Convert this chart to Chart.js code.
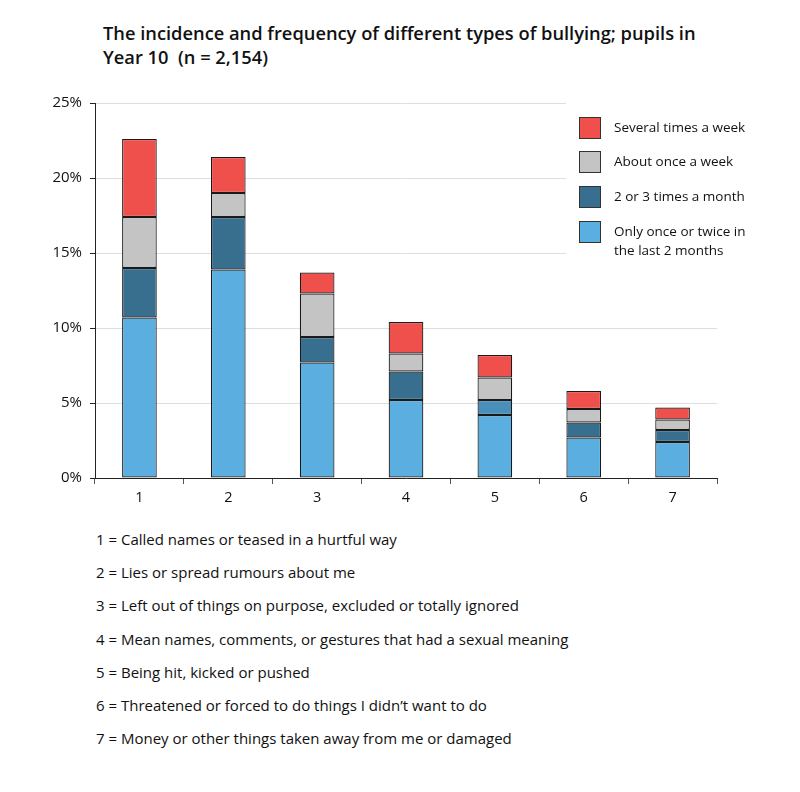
<!DOCTYPE html>
<html>
<head>
<meta charset="utf-8">
<script src="https://cdn.jsdelivr.net/npm/chart.js@4"></script>
<style>
  body { margin: 0; background: #fff; font-family: "Open Sans", sans-serif; color: #111; }
  #wrap { position: relative; width: 800px; height: 792px; }
  #title { position: absolute; left: 103px; top: 21px; font-size: 18.3px; font-weight: 600; line-height: 24px; }
  #chartBox { position: absolute; left: 0; top: 0; width: 800px; height: 520px; }
  #legend { position: absolute; left: 566px; top: 96px; width: 200px; height: 170px; background: #fff; }
  .item { position: absolute; left: 13px; font-size: 13.5px; line-height: 19px; }
  .item span.box { position: absolute; left: 0; top: 0; width: 22px; height: 22px; border: 1px solid #333; box-sizing: border-box; }
  .item span.txt { position: absolute; left: 35px; top: 1px; width: 160px; }
  #notes { position: absolute; left: 96px; top: 523px; font-size: 15px; line-height: 33.2px; }
</style>
</head>
<body>
<div id="wrap">
  <div id="title">The incidence and frequency of different types of bullying; pupils in<br>Year 10&nbsp; (n = 2,154)</div>
  <div id="chartBox"><canvas id="chartCanvas"></canvas></div>
  <div id="legend"></div>
  <div id="notes"></div>
</div>
<script>
const categories = ["1", "2", "3", "4", "5", "6", "7"];
const onceOrTwice = [10.7, 13.9, 7.7, 5.2, 4.2, 2.7, 2.4];
const twoOrThree = [3.3, 3.5, 1.7, 1.9, 1.0, 1.0, 0.8];
const onceAWeek = [3.4, 1.6, 2.9, 1.2, 1.5, 0.9, 0.7];
const severalTimes = [5.2, 2.4, 1.4, 2.1, 1.5, 1.2, 0.8];
const yTicks = [0, 5, 10, 15, 20, 25];
const notes = [
  "1 = Called names or teased in a hurtful way",
  "2 = Lies or spread rumours about me",
  "3 = Left out of things on purpose, excluded or totally ignored",
  "4 = Mean names, comments, or gestures that had a sexual meaning",
  "5 = Being hit, kicked or pushed",
  "6 = Threatened or forced to do things I didn\u2019t want to do",
  "7 = Money or other things taken away from me or damaged"
];

const darkBlues = ["#386f8f", "#386f8f", "#386f8f", "#386f8f", "#4a8fba", "#386f8f", "#386f8f"];

const datasets = [
  { label: "Only once or twice in the last 2 months", data: onceOrTwice, backgroundColor: "#5aaee0" },
  { label: "2 or 3 times a month", data: twoOrThree, backgroundColor: darkBlues, legendColor: "#386f8f" },
  { label: "About once a week", data: onceAWeek, backgroundColor: "#c3c4c3" },
  { label: "Several times a week", data: severalTimes, backgroundColor: "#f0504c" }
];
datasets.forEach(d => {
  d.borderColor = "#1a1a1a";
  d.borderWidth = 1.2;
  d.borderSkipped = false;
  d.barPercentage = 0.39;
  d.categoryPercentage = 1;
});

// legend (top item is the top segment)
const legend = document.getElementById("legend");
const tops = [21, 55, 90, 125];
datasets.slice().reverse().forEach((d, i) => {
  const el = document.createElement("div");
  el.className = "item";
  el.style.top = tops[i] + "px";
  const col = d.legendColor || d.backgroundColor;
  const txt = d.label === "Only once or twice in the last 2 months" ? "Only once or twice in<br>the last 2 months" : d.label;
  el.innerHTML = '<span class="box" style="background:' + col + '"></span><span class="txt">' + txt + '</span>';
  legend.appendChild(el);
});

document.getElementById("notes").innerHTML = notes.map(n => "<div>" + n + "</div>").join("");

Chart.defaults.font.family = '"Open Sans", sans-serif';
Chart.defaults.color = "#111";

new Chart(document.getElementById("chartCanvas"), {
  type: "bar",
  data: { labels: categories, datasets: datasets },
  options: {
    responsive: true,
    maintainAspectRatio: false,
    animation: false,
    layout: { padding: { left: 35, right: 83, top: 103, bottom: 12 } },
    plugins: { legend: { display: false }, tooltip: { enabled: false } },
    scales: {
      x: {
        stacked: true,
        afterFit: s => { s.height = 30; },
        border: { display: true, color: "#222", width: 1 },
        grid: { offset: true, drawOnChartArea: false, tickLength: 6, tickColor: "#555" },
        ticks: { font: { size: 14.5 }, padding: 5 }
      },
      y: {
        stacked: true,
        min: 0,
        max: 25,
        afterFit: s => { s.width = 60; },
        afterBuildTicks: s => { s.ticks = yTicks.map(v => ({ value: v })); },
        border: { display: true, color: "#222", width: 1 },
        grid: { color: "#dedede", tickLength: 5, tickColor: "#222" },
        ticks: { font: { size: 15 }, padding: 8, callback: v => v + "%" }
      }
    }
  }
});
</script>
</body>
</html>
